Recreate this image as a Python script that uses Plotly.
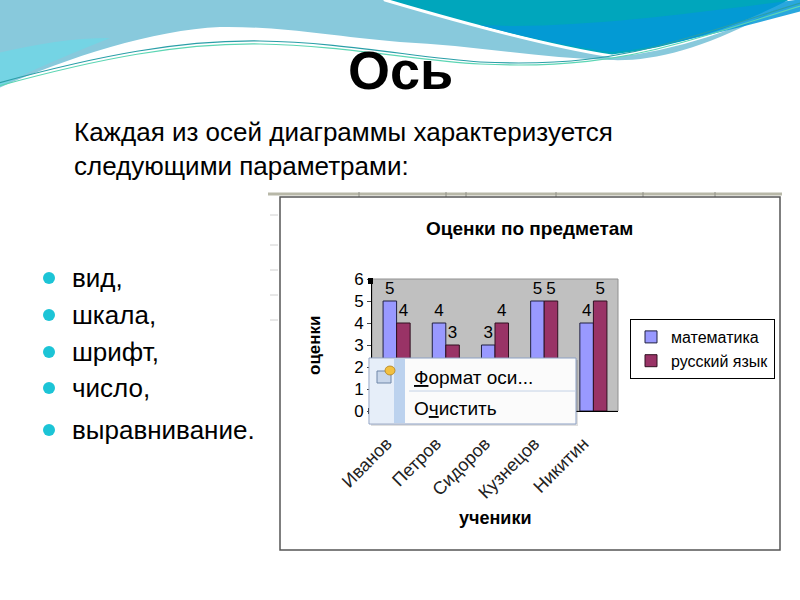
import plotly.graph_objects as go

# chart data
students = ['Иванов', 'Петров', 'Сидоров', 'Кузнецов', 'Никитин']
math_marks = [5, 4, 3, 5, 4]
russian_marks = [4, 3, 4, 5, 5]
series_names = ['математика', 'русский язык']
y_ticks = [0, 1, 2, 3, 4, 5, 6]

# slide text
slide_title = 'Ось'
intro_lines = ['Каждая из осей диаграммы характеризуется', 'следующими параметрами:']
bullets = ['вид,', 'шкала,', 'шрифт,', 'число,', 'выравнивание.']
bullet_rows = [278, 315, 352, 388, 430]

W, H = 800, 600


def px(x):
    return x / W


def py(y):
    return 1 - y / H


def path(cmds):
    # cmds: list of (letter, [x1, y1, x2, y2, ...]) in pixel coords
    out = []
    for letter, pts in cmds:
        if letter == 'Z':
            out.append('Z')
            continue
        coords = []
        for i in range(0, len(pts), 2):
            coords.append(f'{px(pts[i]):.4f},{py(pts[i + 1]):.4f}')
        out.append(letter + ' ' + ' '.join(coords))
    return ' '.join(out)


def label(text, x, y, size, xanchor='center', **kw):
    return dict(text=text, x=px(x), y=py(y), xanchor=xanchor, yanchor='middle',
                xref='paper', yref='paper', showarrow=False,
                font=dict(size=size, color='black', family='Liberation Sans'), **kw)


fig = go.Figure()

fig.add_trace(go.Bar(x=students, y=math_marks, name=series_names[0],
                     marker=dict(color='#9999ff', line=dict(color='#202040', width=1)),
                     text=math_marks, textposition='outside', cliponaxis=False,
                     textfont=dict(size=17, color='black')))
fig.add_trace(go.Bar(x=students, y=russian_marks, name=series_names[1],
                     marker=dict(color='#993366', line=dict(color='#301020', width=1)),
                     text=russian_marks, textposition='outside', cliponaxis=False,
                     textfont=dict(size=17, color='black')))

shapes = []

# header waves
shapes.append(dict(type='path', xref='paper', yref='paper', layer='below',
                   path=path([('M', [-10, -10]), ('L', [810, -10, 810, 27]),
                              ('C', [720, 45, 660, 62, 610, 60]),
                              ('C', [540, 58, 470, 45, 400, 42]),
                              ('C', [330, 36, 280, 26, 220, 27]),
                              ('C', [150, 30, 60, 60, -10, 92]), ('Z', [])]),
                   fillcolor='#88c9dc', line=dict(width=0)))
shapes.append(dict(type='path', xref='paper', yref='paper', layer='below',
                   path=path([('M', [-10, 55]), ('C', [30, 45, 70, 38, 110, 38]),
                              ('C', [80, 50, 30, 70, -10, 92]), ('Z', [])]),
                   fillcolor='#74d4e4', line=dict(width=0)))
shapes.append(dict(type='path', xref='paper', yref='paper', layer='below',
                   path=path([('M', [378, -10]), ('L', [810, -10, 810, 12]),
                              ('C', [740, 30, 670, 50, 612, 56]),
                              ('C', [560, 48, 480, 28, 385, 0]), ('Z', [])]),
                   fillcolor='#00a6bc', line=dict(color='white', width=3)))
shapes.append(dict(type='path', xref='paper', yref='paper', layer='below',
                   path=path([('M', [480, 25]), ('C', [570, 30, 690, 14, 810, -2]),
                              ('L', [810, 9]), ('C', [740, 27, 670, 47, 612, 52]),
                              ('C', [570, 47, 525, 37, 480, 25]), ('Z', [])]),
                   fillcolor='#0398d8', opacity=0.85, line=dict(width=0)))
shapes.append(dict(type='path', xref='paper', yref='paper', layer='below',
                   path=path([('M', [-5, 84]), ('C', [100, 55, 180, 40, 260, 41]),
                              ('C', [340, 42, 420, 58, 480, 62]),
                              ('C', [560, 66, 620, 58, 680, 40]),
                              ('C', [730, 26, 770, 12, 810, 0])]),
                   line=dict(color='#2a9fa8', width=1.2)))
shapes.append(dict(type='path', xref='paper', yref='paper', layer='below',
                   path=path([('M', [-5, 87]), ('C', [100, 58, 180, 43, 260, 44]),
                              ('C', [340, 45, 420, 61, 480, 64]),
                              ('C', [560, 68, 620, 60, 680, 43]),
                              ('C', [730, 29, 770, 15, 810, 3])]),
                   line=dict(color='#5cd6b4', width=1.2)))

# bullets
for yb in bullet_rows:
    shapes.append(dict(type='circle', xref='paper', yref='paper', layer='below',
                       x0=px(43), x1=px(55), y0=py(yb + 6), y1=py(yb - 6),
                       fillcolor='#1cc4d6', line=dict(width=0)))

# spreadsheet ruler above the chart picture
shapes.append(dict(type='line', xref='paper', yref='paper', layer='below',
                   x0=px(268), x1=px(782), y0=py(194), y1=py(194),
                   line=dict(color='#b8b8a8', width=3)))
for xt in [359, 446, 466, 556, 643, 715]:
    shapes.append(dict(type='line', xref='paper', yref='paper', layer='below',
                       x0=px(xt), x1=px(xt), y0=py(192), y1=py(197),
                       line=dict(color='#909088', width=1)))
for yt in [215, 245, 270, 295, 320]:
    shapes.append(dict(type='line', xref='paper', yref='paper', layer='below',
                       x0=px(270), x1=px(278), y0=py(yt), y1=py(yt),
                       line=dict(color='#d0d0d0', width=1)))

# chart picture frame
shapes.append(dict(type='rect', xref='paper', yref='paper', layer='below',
                   x0=px(280), x1=px(780), y0=py(550), y1=py(197),
                   fillcolor='white', line=dict(color='#555555', width=1.5)))

# gray plot area
shapes.append(dict(type='rect', xref='x domain', yref='y domain', layer='below',
                   x0=0, x1=1, y0=0, y1=1,
                   fillcolor='#c0c0c0', line=dict(color='#909090', width=1)))

# selection handles on the value axis
for yh in [281, 411]:
    shapes.append(dict(type='rect', xref='paper', yref='paper', layer='above',
                       x0=px(368), x1=px(373), y0=py(yh + 3), y1=py(yh - 3),
                       fillcolor='black', line=dict(width=0)))

# context menu
shapes.append(dict(type='rect', xref='paper', yref='paper', layer='above',
                   x0=px(371), x1=px(578), y0=py(426), y1=py(360),
                   fillcolor='rgba(0,0,0,0.12)', line=dict(width=0)))
shapes.append(dict(type='rect', xref='paper', yref='paper', layer='above',
                   x0=px(369), x1=px(576), y0=py(424), y1=py(358),
                   fillcolor='#fbfbfb', line=dict(color='#8ca0c4', width=1)))
shapes.append(dict(type='rect', xref='paper', yref='paper', layer='above',
                   x0=px(370), x1=px(394), y0=py(423), y1=py(359),
                   fillcolor='#e6eef9', line=dict(width=0)))
shapes.append(dict(type='rect', xref='paper', yref='paper', layer='above',
                   x0=px(394), x1=px(405), y0=py(423), y1=py(359),
                   fillcolor='#bcd2ee', line=dict(width=0)))
shapes.append(dict(type='line', xref='paper', yref='paper', layer='above',
                   x0=px(409), x1=px(575), y0=py(391), y1=py(391),
                   line=dict(color='#c4d2e6', width=1)))
# menu icon
shapes.append(dict(type='rect', xref='paper', yref='paper', layer='above',
                   x0=px(377), x1=px(391), y0=py(383), y1=py(371),
                   fillcolor='#c8d6ea', line=dict(color='#6f86a8', width=1)))
shapes.append(dict(type='circle', xref='paper', yref='paper', layer='above',
                   x0=px(385), x1=px(395), y0=py(375), y1=py(366),
                   fillcolor='#f2c040', line=dict(color='#b08020', width=0.8)))

annotations = [label(f'<b>{slide_title}</b>', 400, 70, 54)]
for line, yl in zip(intro_lines, [132, 166]):
    annotations.append(label(line, 72, yl, 26, xanchor='left'))
for item, yb in zip(bullets, bullet_rows):
    annotations.append(label(item, 70, yb, 26, xanchor='left'))

annotations.append(label('<b>Оценки по предметам</b>', 529, 229, 19))
annotations.append(label('<b>оценки</b>', 314, 345, 17, textangle=-90))
annotations.append(label('<b>ученики</b>', 495, 518, 18))
annotations.append(label('<u>Ф</u>ормат оси...', 412, 377, 19, xanchor='left'))
annotations.append(label('О<u>ч</u>истить', 412, 408, 19, xanchor='left'))

fig.update_layout(
    width=W, height=H,
    margin=dict(l=0, r=0, t=0, b=0, autoexpand=False),
    paper_bgcolor='white',
    plot_bgcolor='rgba(0,0,0,0)',
    font=dict(family='Liberation Sans', color='black'),
    barmode='group',
    bargap=0.45,
    bargroupgap=0,
    showlegend=True,
    legend=dict(x=px(630), y=py(319), xanchor='left', yanchor='top',
                bgcolor='white', bordercolor='black', borderwidth=1,
                font=dict(size=16, color='black')),
    shapes=shapes,
    annotations=annotations,
)

fig.update_xaxes(domain=[px(372), px(618)], tickangle=-45, automargin=False,
                 tickfont=dict(size=18, color='#222222'),
                 showline=True, linecolor='black', linewidth=1,
                 ticks='outside', ticklen=4, tickson='boundaries',
                 ticklabelstandoff=14, ticklabelshift=-10, showgrid=False)
fig.update_yaxes(domain=[py(411), py(279)], range=[0, 6], tickvals=y_ticks, automargin=False,
                 tickfont=dict(size=17, color='black'),
                 showline=True, linecolor='black', linewidth=1,
                 ticks='outside', ticklen=4, showgrid=False, zeroline=False)

fig.write_html('out.html', config={'displayModeBar': False},
               post_script="document.body.style.margin='0';document.body.style.overflow='hidden';")
